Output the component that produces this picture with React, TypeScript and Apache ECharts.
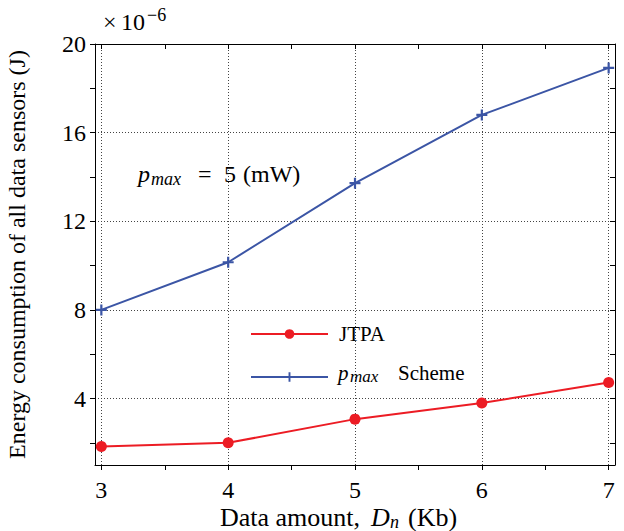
import React, { useEffect, useRef } from "react";
import * as echarts from "echarts";

const dataAmount = [3, 4, 5, 6, 7];
const jtpaEnergy = [1.83, 2.0, 3.07, 3.8, 4.72];
const pmaxEnergy = [8.0, 10.15, 13.72, 16.8, 18.92];
const xMajorTicks = [3, 4, 5, 6, 7];
const xAllTicks = [3, 3.5, 4, 4.5, 5, 5.5, 6, 6.5, 7];
const yMajorTicks = [4, 8, 12, 16, 20];
const yAllTicks = [2, 4, 6, 8, 10, 12, 14, 16, 18, 20];
const seriesNames = ["JTPA", "pmax Scheme"];

const FONT = "Liberation Serif";
const RED = "#ec1c24";
const BLUE = "#3b55a5";
const PLUS = "path://M4,0H6V4H10V6H6V10H4V6H0V4H4Z";

const txt = (text: string, left: number, top: number, fontSize: number, italic = false) => ({
  type: "text",
  left,
  top,
  z: 10,
  style: {
    text,
    fontSize,
    fontFamily: FONT,
    fontStyle: italic ? "italic" : "normal",
    fill: "#000",
  },
});

export default function App() {
  const ref = useRef<HTMLDivElement>(null);
  useEffect(() => {
    if (!ref.current) return;
    const chart = echarts.init(ref.current, null, { renderer: "svg" });
    const xRange = { min: 2.95, max: 7.05 };
    const yRange = { min: 1, max: 20 };
    const axisLine = { show: true, lineStyle: { color: "#000", width: 1 } };
    const gridLineStyle = { color: "#444", width: 1, type: [1, 2] as any };
    chart.setOption({
      animation: false,
      backgroundColor: "#fff",
      textStyle: { fontFamily: FONT },
      grid: { left: 95, right: 9, top: 44, bottom: 66, containLabel: false, outerBoundsMode: "none" },
      xAxis: [
        {
          type: "value",
          position: "bottom",
          ...xRange,
          axisLine,
          axisTick: { show: true, inside: false, length: 5, customValues: xAllTicks, lineStyle: { color: "#000" } },
          axisLabel: { customValues: xMajorTicks, margin: 13, color: "#000", fontSize: 24, fontFamily: FONT },
          splitLine: { show: false },
        },
        {
          type: "value",
          position: "top",
          ...xRange,
          axisLine,
          axisTick: { show: true, inside: true, length: 5, customValues: xAllTicks, lineStyle: { color: "#000" } },
          axisLabel: { show: false },
          splitLine: { show: false },
        },
        {
          type: "value",
          position: "bottom",
          ...xRange,
          axisLine: { show: false },
          axisTick: { show: false, customValues: xMajorTicks },
          axisLabel: { show: false },
          splitLine: { show: true, lineStyle: gridLineStyle },
        },
      ],
      yAxis: [
        {
          type: "value",
          position: "left",
          ...yRange,
          axisLine,
          axisTick: { show: true, inside: false, length: 5, customValues: yAllTicks, lineStyle: { color: "#000" } },
          axisLabel: { customValues: yMajorTicks, margin: 9, color: "#000", fontSize: 24, fontFamily: FONT },
          splitLine: { show: false },
          name: "Energy consumption of all data sensors (J)",
          nameLocation: "middle",
          nameGap: 66,
          nameTextStyle: { fontSize: 24, fontFamily: FONT, color: "#000" },
        },
        {
          type: "value",
          position: "right",
          ...yRange,
          axisLine,
          axisTick: { show: true, inside: true, length: 5, customValues: yAllTicks, lineStyle: { color: "#000" } },
          axisLabel: { show: false },
          splitLine: { show: false },
        },
        {
          type: "value",
          position: "left",
          ...yRange,
          axisLine: { show: false },
          axisTick: { show: false, customValues: yMajorTicks },
          axisLabel: { show: false },
          splitLine: { show: true, lineStyle: gridLineStyle },
        },
      ],
      legend: {
        orient: "vertical",
        left: 250,
        top: 322,
        padding: 0,
        itemWidth: 77,
        itemHeight: 12,
        itemGap: 19,
        data: seriesNames,
        formatter: (name: string) => (name === "pmax Scheme" ? " " : name),
        textStyle: { fontFamily: FONT, fontSize: 21, color: "#000", lineHeight: 24, padding: [0, 0, 0, 6] },
      },
      graphic: [
        // ×10^-6
        txt("×", 103, 10, 24),
        txt("10", 121, 10, 24),
        txt("−6", 147, 6, 18),
        // p_max = 5 (mW)
        txt("p", 138, 162, 24, true),
        txt("max", 151, 170, 18, true),
        txt("=", 198, 162, 24),
        txt("5", 224, 162, 24),
        txt("(mW)", 243, 162, 24),
        // legend label for the second series
        txt("p", 338, 362, 21, true),
        txt("max", 350, 368, 17, true),
        txt("Scheme", 398, 362, 21),
        // x-axis title
        txt("Data amount,", 220, 504, 26),
        txt("D", 371, 504, 26, true),
        txt("n", 390, 513, 18, true),
        txt("(Kb)", 408, 504, 26),
      ],
      series: [
        {
          name: seriesNames[0],
          type: "line",
          xAxisIndex: 0,
          yAxisIndex: 0,
          data: dataAmount.map((x, i) => [x, jtpaEnergy[i]]),
          symbol: "circle",
          symbolSize: 11,
          itemStyle: { color: RED },
          lineStyle: { color: RED, width: 2 },
          z: 3,
        },
        {
          name: seriesNames[1],
          type: "line",
          xAxisIndex: 0,
          yAxisIndex: 0,
          data: dataAmount.map((x, i) => [x, pmaxEnergy[i]]),
          symbol: PLUS,
          symbolSize: 11,
          itemStyle: { color: BLUE },
          lineStyle: { color: BLUE, width: 2 },
          z: 3,
        },
      ],
    });
    return () => chart.dispose();
  }, []);
  return <div ref={ref} style={{ width: 624, height: 531, position: "absolute", left: 0, top: 0 }} />;
}
